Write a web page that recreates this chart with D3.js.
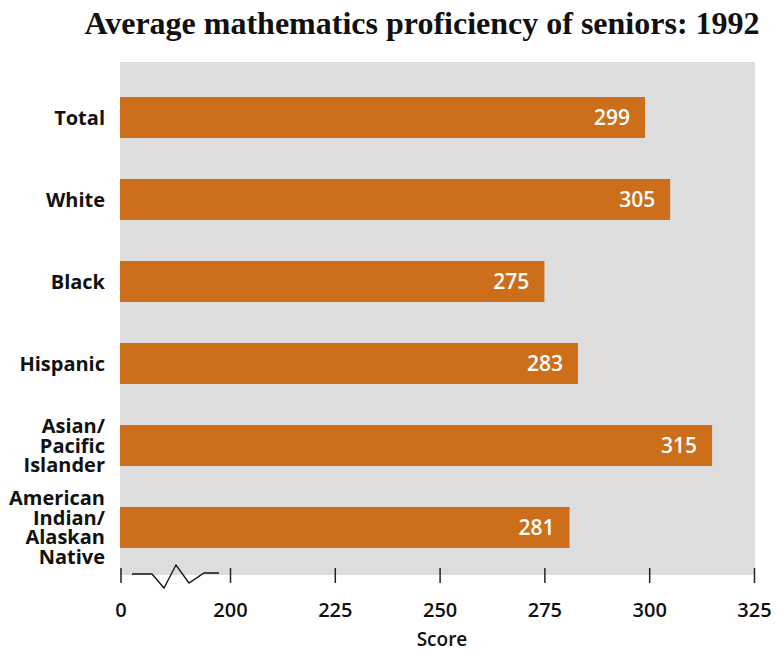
<!DOCTYPE html>
<html><head><meta charset="utf-8">
<script src="https://cdn.jsdelivr.net/npm/d3@7"></script>
<style>
body{margin:0;background:#fff;}
svg{display:block;}
</style></head>
<body>
<svg id="chart" width="778" height="651"></svg>
<script>
const title = "Average mathematics proficiency of seniors: 1992";
const categories = ["Total","White","Black","Hispanic","Asian/\nPacific\nIslander","American\nIndian/\nAlaskan\nNative"];
const scores = [299,305,275,283,315,281];
const tickValues = [0,200,225,250,275,300,325];
const xTitle = "Score";

const svg = d3.select("#chart");
const panel = {x0:120, x1:755, y0:62, y1:575};

const x = d3.scaleLinear().domain([0,200,325]).range([120.5,230,754]);
const y = d3.scaleBand().domain(categories).range([56,589]).paddingInner(0.5).paddingOuter(0.5);

svg.append("text").attr("x",422).attr("y",34).attr("text-anchor","middle")
  .attr("font-family","'Liberation Serif', serif").attr("font-weight","bold").attr("font-size",32)
  .attr("fill","#111").text(title);

svg.append("rect").attr("x",panel.x0).attr("y",panel.y0).attr("width",panel.x1-panel.x0).attr("height",panel.y1-panel.y0).attr("fill","#dddddd");

svg.selectAll("rect.bar").data(scores).join("rect").attr("class","bar")
  .attr("x",x(0)-0.5).attr("y",(d,i)=>y(categories[i]))
  .attr("width",d=>x(d)-x(0)+0.5).attr("height",y.bandwidth())
  .attr("fill","#cc6e1a");

svg.selectAll("text.val").data(scores).join("text").attr("class","val")
  .attr("x",d=>x(d)-15).attr("y",(d,i)=>y(categories[i])+y.bandwidth()/2)
  .attr("dy","0.36em").attr("text-anchor","end")
  .attr("font-family","'Open Sans', sans-serif").attr("font-weight",600).attr("font-size",21)
  .attr("fill","#fff").text(d=>d);

const lh = 19.5;
categories.forEach((c,i)=>{
  const lines = c.split("\n");
  const cy = y(c)+y.bandwidth()/2;
  const t = svg.append("text").attr("text-anchor","end")
    .attr("font-family","'Open Sans', sans-serif").attr("font-weight",700).attr("font-size",20).attr("fill","#111");
  lines.forEach((l,j)=>{
    t.append("tspan").attr("x",105).attr("y",cy + (j-(lines.length-1)/2)*lh).attr("dy","0.36em").text(l);
  });
});

const axis = d3.axisBottom(x).tickValues(tickValues).tickSize(15).tickPadding(20).tickFormat(d3.format("d"));
const ag = svg.append("g").attr("transform","translate(0,568)").call(axis);
ag.select(".domain").remove();
ag.selectAll(".tick line").attr("stroke","#222").attr("stroke-width",1.5);
ag.selectAll(".tick text").attr("font-family","'Open Sans', sans-serif").attr("font-weight",600).attr("font-size",20).attr("fill","#111");

// axis break symbol
const brk = [[132,574],[152,574],[164,588],[176,565],[189,583],[204,573],[219,573]];
svg.append("path").attr("d",d3.line()(brk)).attr("fill","none").attr("stroke","#111").attr("stroke-width",1.3);

svg.append("text").attr("x",442).attr("y",646).attr("text-anchor","middle")
  .attr("font-family","'Open Sans', sans-serif").attr("font-weight",600).attr("font-size",19).attr("fill","#111").text(xTitle);
</script>
</body></html>
